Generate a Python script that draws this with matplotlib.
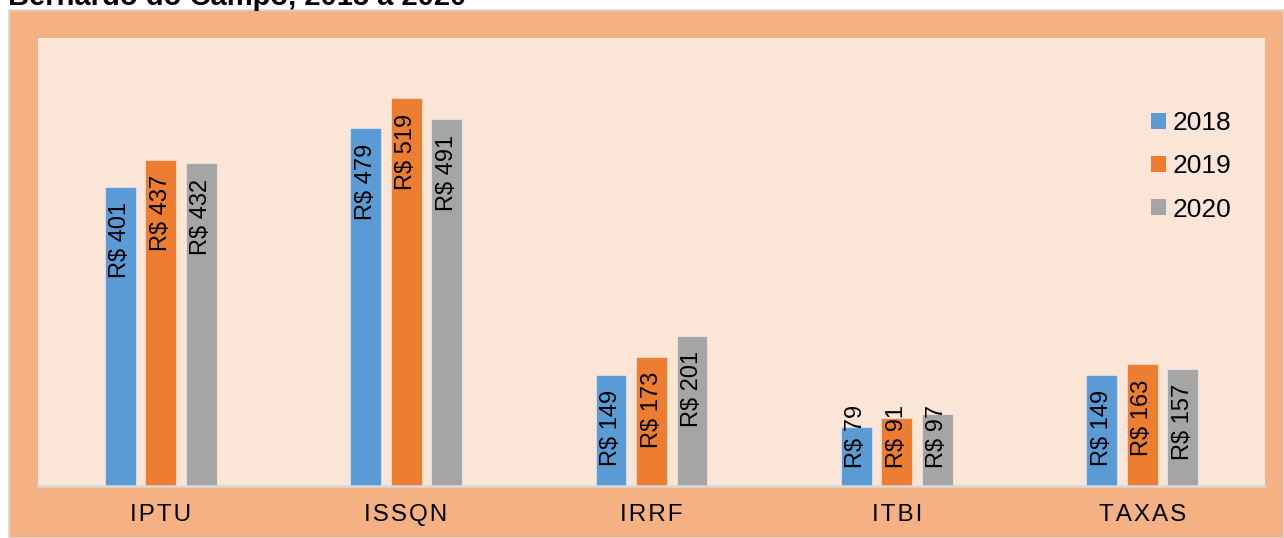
"""Receitas tributárias por tipo, São Bernardo do Campo, 2018 a 2020."""

import matplotlib

matplotlib.use("Agg")
import matplotlib.pyplot as plt
from matplotlib.patches import Patch, Rectangle
import numpy as np

plt.rcParams["font.family"] = ["Liberation Sans", "DejaVu Sans"]

categories = ["IPTU", "ISSQN", "IRRF", "ITBI", "TAXAS"]
years = ["2018", "2019", "2020"]
values_2018 = [401, 479, 149, 79, 149]
values_2019 = [437, 519, 173, 91, 163]
values_2020 = [432, 491, 201, 97, 157]

colors = ["#5B9BD5", "#ED7D31", "#A5A5A5"]
outer_bg = "#F4B183"
inner_bg = "#FBE5D6"

W, H = 1284, 538
fig = plt.figure(figsize=(W / 100, H / 100), dpi=100, facecolor="white")

# outer orange panel
fig.patches.append(
    Rectangle(
        (9 / W, 0), 1 - 9 / W, (H - 9.5) / H,
        transform=fig.transFigure, facecolor=outer_bg,
        edgecolor="#D9D9D9", linewidth=1.2, zorder=-10,
    )
)

fig.text(8 / W, 1 - 5 / H, "Bernardo do Campo, 2018 a 2020",
         fontsize=21, fontweight="bold", va="baseline", ha="left")

ax = fig.add_axes([38 / W, (H - 486) / H, (1265 - 38) / W, (486 - 38) / H])
ax.set_zorder(1)
ax.set_facecolor(inner_bg)

x = np.arange(len(categories))
width = 0.126
step = 0.165
series = [values_2018, values_2019, values_2020]

annotations = []
for j, (vals, color) in enumerate(zip(series, colors)):
    pos = x + (j - 1) * step
    ax.bar(pos, vals, width=width, color=color,
           edgecolor=(1, 1, 1, 0.45), linewidth=0.8, label=years[j], zorder=2)
    for xp, v in zip(pos, vals):
        ann = ax.annotate(
            f"R$ {v}", xy=(xp, v), xytext=(0, -11), textcoords="offset points",
            rotation=90, ha="center", va="top", fontsize=17, zorder=3,
        )
        annotations.append(ann)

ax.set_xlim(-0.5, len(categories) - 0.5)
ax.set_ylim(0, 600)
ax.set_yticks([])
ax.set_xticks(x)
ax.set_xticklabels(["\u200a".join(c) for c in categories], fontsize=17.5)
ax.tick_params(axis="x", length=0, pad=13)
for side in ["top", "left", "right"]:
    ax.spines[side].set_visible(False)
ax.spines["bottom"].set_color("#D9D9D9")
ax.spines["bottom"].set_linewidth(1.8)

handles = [Patch(facecolor=c, edgecolor="none") for c in colors]
leg = fig.legend(
    handles, years, loc="upper left",
    bbox_to_anchor=(1151 / W, (H - 111) / H),
    frameon=False, fontsize=19, handlelength=0.55, handleheight=0.55,
    handletextpad=0.28, labelspacing=0.73, borderpad=0, borderaxespad=0,
)
leg.set_zorder(5)

# labels that do not fit inside short bars are lifted off the baseline
fig.canvas.draw()
base_px = ax.transData.transform((0, 0))[1]
px_per_pt = fig.dpi / 72
for ann in annotations:
    bb = ann.get_window_extent()
    min_bottom = base_px + 18
    if bb.y0 < min_bottom:
        dy = (min_bottom - bb.y0) / px_per_pt
        ox, oy = ann.xyann
        ann.xyann = (ox, oy + dy)

fig.savefig("out.png", dpi=100, facecolor="white")
